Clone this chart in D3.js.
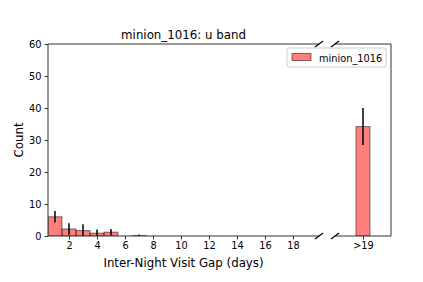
<!DOCTYPE html>
<html>
<head>
<meta charset="utf-8">
<script src="https://cdn.jsdelivr.net/npm/d3@7"></script>
<style>
  body { margin: 0; background: #fff; }
  svg text { font-family: "DejaVu Sans", sans-serif; fill: #000; }
</style>
</head>
<body>
<div id="chart"></div>
<script>
// gap (days) bins, counts and error bars for the left panel
const gapDays = [1, 2, 3, 4, 5, 6, 7];
const gapCounts = [6.0, 2.2, 1.7, 0.9, 1.2, 0, 0.15];
const gapErrors = [1.8, 1.8, 2.0, 1.1, 1.0, 0, 0.3];
// overflow bin on the right panel
const overLabel = [">19"];
const overCounts = [34.2];
const overErrors = [5.8];
const leftTicks = [2, 4, 6, 8, 10, 12, 14, 16, 18];
const yTicks = [0, 10, 20, 30, 40, 50, 60];
const seriesName = "minion_1016";

let width = 423, height = 282;
let plotTop = 44, plotBottom = 236;
let leftAx = { x0: 48, x1: 319 };
let rightAx = { x0: 335, x1: 391 };
let spine = "#333";
let barFill = "rgba(255,0,0,0.5)";
let barEdge = "rgba(0,0,0,0.5)";

const svg = d3.select("#chart").append("svg")
    .attr("width", width)
    .attr("height", height);

const y = d3.scaleLinear().domain([0, 60]).range([plotBottom, plotTop]);
const xL = d3.scaleLinear().domain([0.5, 19.86]).range([leftAx.x0, leftAx.x1]);
const xR = d3.scaleLinear().domain([19, 23]).range([rightAx.x0, rightAx.x1]);

svg.append("clipPath").attr("id", "clipL").append("rect")
    .attr("x", leftAx.x0).attr("y", plotTop)
    .attr("width", leftAx.x1 - leftAx.x0).attr("height", plotBottom - plotTop);
svg.append("clipPath").attr("id", "clipR").append("rect")
    .attr("x", rightAx.x0).attr("y", plotTop)
    .attr("width", rightAx.x1 - rightAx.x0).attr("height", plotBottom - plotTop);

// left panel bars
const gL = svg.append("g").attr("clip-path", "url(#clipL)");
const leftData = gapDays.map((d, i) => ({ x: d, v: gapCounts[i], e: gapErrors[i] }));
gL.selectAll("rect.bar")
    .data(leftData.filter(d => d.v > 0))
    .enter().append("rect")
    .attr("class", "bar")
    .attr("x", d => xL(d.x - 0.5))
    .attr("width", d => xL(d.x + 0.5) - xL(d.x - 0.5))
    .attr("y", d => y(d.v))
    .attr("height", d => y(0) - y(d.v))
    .attr("fill", barFill)
    .attr("stroke", barEdge)
    .attr("stroke-width", 1);
gL.selectAll("line.err")
    .data(leftData.filter(d => d.e > 0))
    .enter().append("line")
    .attr("class", "err")
    .attr("x1", d => xL(d.x)).attr("x2", d => xL(d.x))
    .attr("y1", d => y(d.v + d.e)).attr("y2", d => y(Math.max(0, d.v - d.e)))
    .attr("stroke", "#000").attr("stroke-width", 1.5);

// right panel bar
const gR = svg.append("g").attr("clip-path", "url(#clipR)");
const rightData = overLabel.map((l, i) => ({ x: 21, label: l, v: overCounts[i], e: overErrors[i] }));
gR.selectAll("rect.bar")
    .data(rightData)
    .enter().append("rect")
    .attr("class", "bar")
    .attr("x", d => xR(d.x - 0.5))
    .attr("width", d => xR(d.x + 0.5) - xR(d.x - 0.5))
    .attr("y", d => y(d.v))
    .attr("height", d => y(0) - y(d.v))
    .attr("fill", barFill)
    .attr("stroke", barEdge)
    .attr("stroke-width", 1);
gR.selectAll("line.err")
    .data(rightData)
    .enter().append("line")
    .attr("class", "err")
    .attr("x1", d => xR(d.x)).attr("x2", d => xR(d.x))
    .attr("y1", d => y(d.v + d.e)).attr("y2", d => y(d.v - d.e))
    .attr("stroke", "#000").attr("stroke-width", 1.5);

// axes
function styleAxis(g) {
    g.selectAll("line").attr("stroke", spine);
    g.selectAll("text").attr("font-size", "9.8px").attr("fill", "#000");
}

svg.append("g")
    .attr("transform", `translate(${leftAx.x0},0)`)
    .call(d3.axisLeft(y).tickValues(yTicks).tickSize(3.5).tickPadding(3).tickSizeOuter(0))
    .call(g => g.select(".domain").remove())
    .call(styleAxis);

svg.append("g")
    .attr("transform", `translate(0,${plotBottom})`)
    .call(d3.axisBottom(xL).tickValues(leftTicks).tickSize(3.5).tickPadding(3).tickSizeOuter(0))
    .call(g => g.select(".domain").remove())
    .call(styleAxis);

svg.append("g")
    .attr("transform", `translate(0,${plotBottom})`)
    .call(d3.axisBottom(xR).tickValues([21]).tickFormat(() => overLabel[0]).tickSize(3.5).tickPadding(3).tickSizeOuter(0))
    .call(g => g.select(".domain").remove())
    .call(styleAxis);

// spines
const spines = [
    [leftAx.x0, plotTop, leftAx.x0, plotBottom],
    [leftAx.x0, plotTop, leftAx.x1, plotTop],
    [leftAx.x0, plotBottom, leftAx.x1, plotBottom],
    [rightAx.x0, plotTop, rightAx.x1, plotTop],
    [rightAx.x0, plotBottom, rightAx.x1, plotBottom],
    [rightAx.x1, plotTop, rightAx.x1, plotBottom]
];
svg.selectAll("line.spine")
    .data(spines)
    .enter().append("line")
    .attr("class", "spine")
    .attr("x1", d => d[0]).attr("y1", d => d[1])
    .attr("x2", d => d[2]).attr("y2", d => d[3])
    .attr("stroke", spine).attr("stroke-width", 1);

// break marks
let dk = 4;
[leftAx.x1, rightAx.x0].forEach(bx => {
    [plotTop, plotBottom].forEach(by => {
        svg.append("line")
            .attr("x1", bx - dk).attr("y1", by + 3)
            .attr("x2", bx + dk).attr("y2", by - 3)
            .attr("stroke", "#000").attr("stroke-width", 1.2);
    });
});

// title and labels
svg.append("text")
    .attr("x", (leftAx.x0 + leftAx.x1) / 2).attr("y", 39)
    .attr("text-anchor", "middle")
    .attr("font-size", "11.8px")
    .text(seriesName + ": u band");

svg.append("text")
    .attr("x", (leftAx.x0 + leftAx.x1) / 2).attr("y", 267)
    .attr("text-anchor", "middle")
    .attr("font-size", "11.8px")
    .text("Inter-Night Visit Gap (days)");

svg.append("text")
    .attr("transform", `translate(23,${(plotTop + plotBottom) / 2}) rotate(-90)`)
    .attr("text-anchor", "middle")
    .attr("font-size", "11.8px")
    .text("Count");

// legend
const lg = svg.append("g").attr("transform", "translate(287,48)");
lg.append("rect")
    .attr("width", 99).attr("height", 19).attr("rx", 2)
    .attr("fill", "rgba(255,255,255,0.8)")
    .attr("stroke", "#ccc").attr("stroke-width", 1);
lg.append("rect")
    .attr("x", 5).attr("y", 5.5).attr("width", 19).attr("height", 7)
    .attr("fill", barFill).attr("stroke", barEdge);
lg.append("text")
    .attr("x", 32).attr("y", 13.5)
    .attr("font-size", "9.8px")
    .text(seriesName);
</script>
</body>
</html>
